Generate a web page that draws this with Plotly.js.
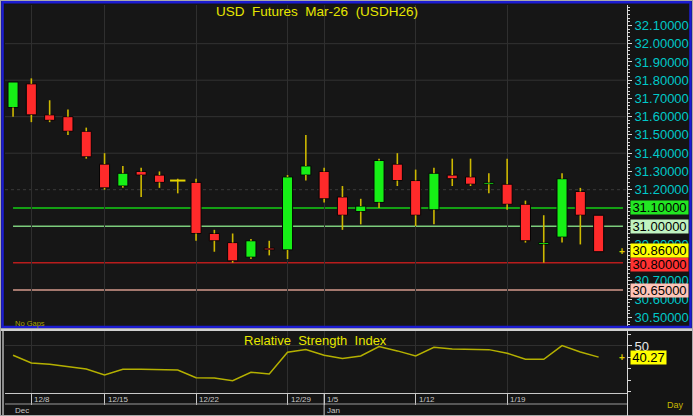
<!DOCTYPE html>
<html><head><meta charset="utf-8">
<script src="https://cdn.plot.ly/plotly-3.0.1.min.js"></script>
<style>html,body{margin:0;padding:0;background:#141414;} #chart{width:693px;height:416px;}</style>
</head><body><div id="chart"></div>
<script>
// ---- data ----
const open  = [31.65,31.78,31.61,31.60,31.52,31.34,31.22,31.30,31.28,31.25,31.24,30.96,30.91,30.83,30.88,30.87,31.28,31.30,31.16,31.08,31.13,31.34,31.25,31.09,31.28,31.27,31.23,31.23,31.12,30.90,30.94,31.19,31.06];
const high  = [31.79,31.81,31.69,31.64,31.54,31.40,31.33,31.32,31.30,31.26,31.26,30.98,30.96,30.93,30.92,31.28,31.50,31.32,31.22,31.15,31.37,31.40,31.31,31.32,31.37,31.37,31.29,31.37,31.14,31.06,31.29,31.21,31.06];
const low   = [31.60,31.57,31.57,31.50,31.37,31.20,31.21,31.16,31.21,31.18,30.92,30.86,30.80,30.82,30.84,30.82,31.25,31.13,30.98,31.01,31.10,31.22,31.00,31.01,31.22,31.22,31.18,31.09,30.91,30.80,30.91,30.90,30.86];
const close = [31.79,31.61,31.58,31.52,31.38,31.21,31.29,31.28,31.24,31.25,30.96,30.92,30.81,30.92,30.87,31.27,31.33,31.15,31.06,31.11,31.36,31.25,31.06,31.29,31.26,31.23,31.24,31.12,30.92,30.91,31.26,31.06,30.86];
const rsi   = [41.9,35.2,34.1,32.3,30.0,24.8,29.7,29.7,29.1,29.1,22.4,22.2,19.8,27.1,25.7,44.5,46.8,41.9,39.0,41.3,49.4,45.7,41.3,48.9,47.4,47.1,46.8,43.7,38.4,38.4,50.3,44.8,40.27];
const dateTickIdx  = [1,5,10,15,17,22,27];
const dateTickText = ['12/8','12/15','12/22','12/29','1/5','1/12','1/19'];
const monthIdx  = [0,17];
const monthText = ['Dec','Jan'];
const priceTicks = [30.5,30.6,30.7,30.8,30.9,31.0,31.1,31.2,31.3,31.4,31.5,31.6,31.7,31.8,31.9,32.0,32.1];
const gridSolid  = [32.0,31.8,31.6,31.4];
const gridDotted = [31.2];
const levelValues = [31.10,31.00,30.80,30.65];
const levelLine   = ['#14a014','#7ccc7c','#b81c1c','#d49a8c'];
const levelBox    = ['#22e622','#c0f2c0','#ff3232','#ffc4b8'];
const levelShift  = [0,0,-1.5,0];
const lastPrice = 30.86;
const rsiLast = 40.27;
const rsiTicks = [50];

// ---- helpers ----
const W = 693, H = 416;
const px = x => x / W;
const py = y => 1 - y / H;
const FONT = 'Liberation Sans, Arial, sans-serif';
const n = open.length;
const idx = open.map((_, i) => i);
const xr = [-0.44, 33.55];
const yr = [30.453, 32.212];
const rr = [9.1, 63];

// bodies
const bx = [], bb = [], bh = [], bc = [];
const dx = [], dy = [];
idx.forEach(i => {
  const o = open[i], c = close[i];
  if (c === o) { dx.push(i); dy.push(o); return; }
  bx.push(i); bb.push(Math.min(o, c)); bh.push(Math.abs(c - o));
  bc.push(c > o ? '#16f016' : '#ff2a2a');
});
// wicks
const wx = [], wy = [];
idx.forEach(i => {
  const top = Math.max(open[i], close[i]), bot = Math.min(open[i], close[i]);
  if (high[i] > top) { wx.push(i, i, null); wy.push(top, high[i], null); }
  if (low[i] < bot) { wx.push(i, i, null); wy.push(bot, low[i], null); }
});

const traces = [
  {type:'bar', x:bx, base:bb, y:bh, width:0.55, xaxis:'x', yaxis:'y',
   marker:{color:bc, line:{color:'#050505', width:1}}, hoverinfo:'skip'},
  {type:'scatter', mode:'lines', x:wx, y:wy, xaxis:'x', yaxis:'y',
   line:{color:'#cdb800', width:1.6}, hoverinfo:'skip'},
  {type:'scatter', mode:'markers', x:dx, y:dy, xaxis:'x', yaxis:'y',
   marker:{symbol:'line-ew', size:11, line:{color:'#e6d400', width:2}}, hoverinfo:'skip'},
  {type:'scatter', mode:'lines', x:idx, y:rsi, xaxis:'x2', yaxis:'y2',
   line:{color:'#b4b000', width:1.5}, hoverinfo:'skip'}
];

const shapes = [];
gridSolid.forEach(v => shapes.push({type:'line', xref:'paper', yref:'y', x0:px(5), x1:px(626), y0:v, y1:v, line:{color:'#333333', width:1}, layer:'below'}));
gridDotted.forEach(v => shapes.push({type:'line', xref:'paper', yref:'y', x0:px(5), x1:px(626), y0:v, y1:v, line:{color:'#3a3a3a', width:1, dash:'dot'}, layer:'below'}));
levelValues.forEach((v, k) => shapes.push({type:'line', xref:'x', yref:'y', x0:0, x1:n - 1 + 1.33, y0:v, y1:v, line:{color:levelLine[k], width:k === 0 ? 2 : 1.6}, layer:'below'}));
shapes.push({type:'rect', xref:'paper', yref:'paper', x0:0, x1:1, y0:0, y1:1, line:{color:'#a8a8a8', width:2}});
shapes.push({type:'rect', xref:'paper', yref:'paper', x0:px(2.5), x1:px(690.5), y0:py(327), y1:py(2.2), line:{color:'#1c1cd2', width:2.5}});
shapes.push({type:'rect', xref:'paper', yref:'paper', x0:px(1), x1:px(692), y0:py(331), y1:py(328.3), fillcolor:'#d0d0d0', line:{width:0}});
shapes.push({type:'line', xref:'paper', yref:'paper', x0:px(3), x1:px(3), y0:py(331), y1:py(415), line:{color:'#8a8a8a', width:2}});
shapes.push({type:'line', xref:'paper', yref:'paper', x0:px(5), x1:px(628), y0:py(404), y1:py(404), line:{color:'#9a9a9a', width:1}});
shapes.push({type:'line', xref:'paper', yref:'paper', x0:px(627.5), x1:px(627.5), y0:py(393), y1:py(416), line:{color:'#d0d0d0', width:1}});
monthIdx.forEach(m => { if (m > 0) shapes.push({type:'line', xref:'x2', yref:'paper', x0:m, x1:m, y0:py(393), y1:py(416), line:{color:'#c8c8c8', width:1}}); });

const boxFont = {family:FONT, size:13, color:'#000'};
const annotations = [];
annotations.push({xref:'paper', yref:'paper', x:px(315), y:py(340), xanchor:'center', yanchor:'middle', showarrow:false,
  text:'Relative\u00a0 Strength\u00a0 Index', font:{family:FONT, size:13, color:'#e6e600'}});
annotations.push({xref:'paper', yref:'paper', x:px(13), y:py(323), xanchor:'left', yanchor:'middle', showarrow:false,
  text:'No Gaps', font:{family:FONT, size:7.5, color:'#a8a000'}});
annotations.push({xref:'paper', yref:'paper', x:px(665), y:py(405), xanchor:'left', yanchor:'middle', showarrow:false,
  text:'Day', font:{family:FONT, size:9, color:'#c8b800'}});
dateTickIdx.forEach((t, k) => annotations.push({xref:'x2', yref:'paper', x:t, y:py(399), xanchor:'left', yanchor:'middle', xshift:1, showarrow:false,
  text:dateTickText[k], font:{family:FONT, size:8, color:'#c8c8c8'}}));
monthIdx.forEach((t, k) => annotations.push({xref:'x2', yref:'paper', x:t, y:py(410), xanchor:'left', yanchor:'middle', xshift:k === 0 ? 0 : 1, showarrow:false,
  text:monthText[k], font:{family:FONT, size:8, color:'#c8c8c8'}}));
levelValues.forEach((v, k) => annotations.push({xref:'paper', yref:'y', x:px(630), y:v, xanchor:'left', yanchor:'middle', showarrow:false,
  yshift:levelShift[k], text:v.toFixed(5), bgcolor:levelBox[k], borderpad:0, height:13, width:57, font:boxFont}));
annotations.push({xref:'paper', yref:'y', x:px(630), y:lastPrice, xanchor:'left', yanchor:'middle', yshift:1.5, showarrow:false,
  text:lastPrice.toFixed(5), bgcolor:'#ffff00', borderpad:0, height:13, width:57, font:boxFont});
annotations.push({xref:'paper', yref:'y2', x:px(630), y:rsiLast, xanchor:'left', yanchor:'middle', showarrow:false,
  text:rsiLast.toFixed(2), bgcolor:'#ffff00', borderpad:0, height:13, width:35, font:boxFont});
annotations.push({xref:'paper', yref:'y', x:px(621.5), y:lastPrice, xanchor:'center', yanchor:'middle', showarrow:false,
  text:'<b>+</b>', font:{family:FONT, size:10, color:'#e0d000'}});
annotations.push({xref:'paper', yref:'y2', x:px(621.5), y:rsiLast, xanchor:'center', yanchor:'middle', showarrow:false,
  text:'<b>+</b>', font:{family:FONT, size:10, color:'#e0d000'}});

// axis labels fully hidden under the level boxes are left blank
const priceTickText = priceTicks.map(v => levelValues.some(l => Math.abs(l - v) < 1e-9) ? '' : v.toFixed(5));

const layout = {
  width:W, height:H, autosize:false, margin:{l:0, r:0, t:0, b:0},
  paper_bgcolor:'#141414', plot_bgcolor:'#161616',
  showlegend:false, hovermode:false, barmode:'overlay',
  title:{text:'USD\u00a0 Futures\u00a0 Mar-26\u00a0 (USDH26)', x:px(317), y:py(11), xanchor:'center', yanchor:'middle',
         xref:'paper', yref:'container', font:{family:FONT, size:13.5, color:'#e6e600'}},
  xaxis:{domain:[px(5), px(627)], range:xr, anchor:'y', tickmode:'array', tickvals:dateTickIdx, showticklabels:false, ticks:'',
         showgrid:true, gridcolor:'#2f2f2f', zeroline:false, showline:false, fixedrange:true},
  yaxis:{domain:[py(326), py(5)], range:yr, anchor:'x', side:'right', tickmode:'array', tickvals:priceTicks,
         ticktext:priceTickText, tickfont:{family:FONT, size:13, color:'#00c8c8'},
         ticks:'outside', ticklen:4, tickcolor:'#d8d8d8',
         minor:{tickmode:'linear', tick0:30.5, dtick:0.02, ticks:'outside', ticklen:2, tickcolor:'#d8d8d8', showgrid:false},
         showline:true, linecolor:'#d8d8d8', linewidth:1, showgrid:false, zeroline:false},
  yaxis3:{overlaying:'y', anchor:'x', side:'left', range:yr, tickmode:'linear', tick0:30.5, dtick:0.1,
          ticks:'inside', ticklen:5, tickcolor:'#d8d8d8',
          minor:{tickmode:'linear', tick0:30.5, dtick:0.05, ticks:'inside', ticklen:3, tickcolor:'#d8d8d8', showgrid:false},
          showticklabels:false, showgrid:false, zeroline:false, showline:false},
  xaxis2:{domain:[px(5), px(627)], range:xr, anchor:'y2', tickmode:'array', tickvals:dateTickIdx, showticklabels:false,
          ticks:'outside', ticklen:11, tickcolor:'#c8c8c8', showgrid:true, gridcolor:'#2f2f2f',
          showline:true, linecolor:'#c8c8c8', zeroline:false},
  yaxis2:{domain:[py(393), py(331)], range:rr, anchor:'x2', side:'right', tickmode:'array', tickvals:rsiTicks,
          ticktext:rsiTicks.map(String), tickfont:{family:FONT, size:13, color:'#e8e8e8'},
          ticks:'outside', ticklen:4, tickcolor:'#d8d8d8',
          minor:{tickmode:'linear', tick0:0, dtick:10, ticks:'outside', ticklen:3, tickcolor:'#d8d8d8', showgrid:false},
          showline:true, linecolor:'#d8d8d8', showgrid:true, gridcolor:'#2f2f2f', zeroline:false},
  yaxis4:{overlaying:'y2', anchor:'x2', side:'left', range:rr, tickmode:'linear', tick0:0, dtick:10,
          ticks:'inside', ticklen:4, tickcolor:'#d8d8d8', showticklabels:false, showgrid:false, zeroline:false, showline:false},
  shapes:shapes, annotations:annotations
};

Plotly.newPlot('chart', traces, layout, {staticPlot:true, displayModeBar:false});
</script>
</body></html>
